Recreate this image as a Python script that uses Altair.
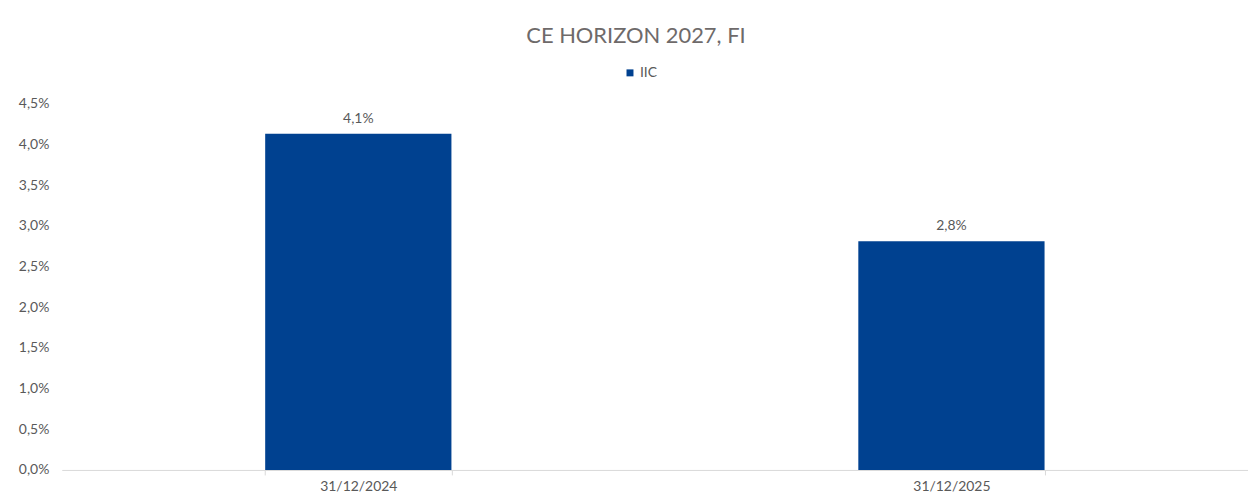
import altair as alt
import pandas as pd

dates = ["31/12/2024", "31/12/2025"]
iic = [0.0413, 0.0281]
series = ["IIC", "IIC"]
y_ticks = [0, 0.005, 0.01, 0.015, 0.02, 0.025, 0.03, 0.035, 0.04, 0.045]

df = pd.DataFrame({"fecha": dates, "valor": iic, "serie": series})

FONT = "Lato"
GRAY = "#595959"
BLUE = "#004190"

base = alt.Chart(df).encode(
    x=alt.X(
        "fecha:N",
        sort=dates,
        title=None,
        scale=alt.Scale(paddingInner=0.686, paddingOuter=0.343),
        axis=alt.Axis(
            labelAngle=0,
            tickBand="extent",
            tickSize=5,
            tickColor="#D9D9D9",
            domainColor="#D9D9D9",
            labelPadding=5,
            labelFont=FONT,
            labelFontSize=14,
            labelColor=GRAY,
            grid=False,
        ),
    ),
    y=alt.Y(
        "valor:Q",
        title=None,
        scale=alt.Scale(domain=[0, 0.045], nice=False),
        axis=alt.Axis(
            values=y_ticks,
            labelExpr="replace(format(datum.value, '.1%'), '.', ',')",
            domain=False,
            ticks=False,
            tickSize=0,
            labelPadding=13,
            grid=False,
            labelFont=FONT,
            labelFontSize=14,
            labelColor=GRAY,
        ),
    ),
)

bars = base.mark_bar(color=BLUE).encode(
    color=alt.Color(
        "serie:N",
        scale=alt.Scale(domain=["IIC"], range=[BLUE]),
        legend=alt.Legend(
            title=None,
            orient="none",
            legendX=564,
            legendY=-38,
            symbolType="square",
            symbolSize=49,
            symbolStrokeWidth=0,
            labelFont=FONT,
            labelFontSize=14,
            labelColor=GRAY,
            labelOffset=3,
            padding=0,
        ),
    )
)

labels = base.transform_calculate(
    etiqueta="replace(format(datum.valor, '.1%'), '.', ',')"
).mark_text(
    baseline="bottom", dy=-8, font=FONT, fontSize=14, color=GRAY
).encode(text="etiqueta:N")

chart = (
    alt.layer(bars, labels)
    .properties(
        width=1192,
        height=368,
        padding={"left": 54, "top": 95, "right": 0, "bottom": 24},
        autosize=alt.AutoSizeParams(type="none"),
        title=alt.TitleParams(
            "CE HORIZON 2027, FI",
            font=FONT,
            fontSize=22,
            fontWeight="normal",
            color="#6E6A6A",
            anchor="middle",
            offset=18,
            dx=-19,
        ),
    )
    .configure_view(stroke=None)
)

chart.save("out.html", embed_options={"renderer": "svg", "actions": False})
